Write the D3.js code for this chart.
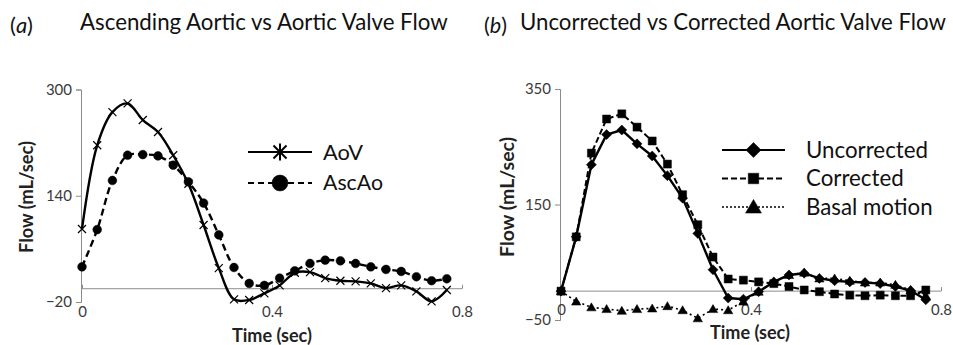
<!DOCTYPE html>
<html><head><meta charset="utf-8">
<script src="https://cdn.jsdelivr.net/npm/d3@7"></script>
<style>html,body{margin:0;padding:0;background:#fff;}svg{display:block;}</style>
</head><body>
<script>
// ---- data ----
const time = [0, 0.032, 0.064, 0.096, 0.128, 0.160, 0.192, 0.224, 0.256, 0.288, 0.320, 0.352, 0.384, 0.416, 0.448, 0.480, 0.512, 0.544, 0.576, 0.608, 0.640, 0.672, 0.704, 0.736, 0.768];
const aov = [90, 216, 266, 279, 254, 236, 201, 158, 96, 31, -16, -17, -7, 5, 24, 25, 16, 12, 11, 8, 1, 5, -4, -19, -2];
const ascAo = [33, 89, 163, 201, 202, 200, 186, 161, 129, 81, 32, 8, 5, 16, 27, 38, 43, 42, 38, 33, 29, 26, 18, 12, 15];
const uncorrected = [0, 94, 219, 271, 279, 255, 234, 200, 161, 100, 37, -12, -14, -1, 16, 28, 31, 22, 18, 16, 15, 13, 8, 1, -15];
const corrected = [0, 94, 239, 298, 307, 284, 260, 220, 167, 115, 59, 21, 19, 16, 13, 8, 2, -1, -5, -7, -8, -7, -8, -8, 2];
const basal = [0, -18, -28, -31, -34, -31, -30, -26, -33, -47, -31, -33, -18, -1, 16, 28, 32, 22, 22, 18, 15, 15, 11, 2, -8];
const yTicksA = [-20, 140, 300];
const yTicksB = [-50, 150, 350];
const xTicks = [0, 0.4, 0.8];
const titleA = "Ascending Aortic vs Aortic Valve Flow";
const titleB = "Uncorrected vs Corrected Aortic Valve Flow";
const yLabel = "Flow (mL/sec)";
const xLabel = "Time (sec)";
const legendA = ["AoV", "AscAo"];
const legendB = ["Uncorrected", "Corrected", "Basal motion"];

const W = 953, H = 345;
const FONT = "Lato, 'Open Sans', sans-serif";
const svg = d3.select("body").append("svg").attr("width", W).attr("height", H);
svg.append("rect").attr("width", W).attr("height", H).attr("fill", "#fff");

function fit(sel, target) {
  const n = sel.node();
  const len = n.getComputedTextLength();
  const fs = parseFloat(sel.attr("font-size"));
  if (len > 0) sel.attr("font-size", (fs * target / len).toFixed(2));
  return sel;
}

// ---- titles ----
function panelLabel(x, y, letter) {
  const t = svg.append("text").attr("x", x).attr("y", y).attr("font-family", FONT).attr("font-size", 20).attr("fill", "#111");
  t.append("tspan").text("(");
  t.append("tspan").attr("font-style", "italic").text(letter);
  t.append("tspan").text(")");
  fit(t, 23);
}
panelLabel(10, 33, "a");
panelLabel(484, 33, "b");
fit(svg.append("text").attr("x", 80).attr("y", 30).attr("font-family", FONT).attr("font-size", 20).attr("fill", "#111").text(titleA), 368);
fit(svg.append("text").attr("x", 520).attr("y", 30).attr("font-family", FONT).attr("font-size", 20).attr("fill", "#111").text(titleB), 426);

const AXIS = "#8c8c8c";
const TICKC = "#3a3a3a";

function panel(cfg) {
  const x = d3.scaleLinear().domain([0, 0.8]).range(cfg.xr);
  const y = d3.scaleLinear().domain(cfg.yd).range(cfg.yr);
  const g = svg.append("g");
  // y axis
  const ya = d3.axisLeft(y).tickValues(cfg.yTicks).tickSize(5).tickFormat(d3.format("d"));
  const yg = g.append("g").attr("transform", `translate(${cfg.xr[0] - 1},0)`).call(ya);
  yg.select(".domain").attr("stroke", AXIS);
  yg.selectAll(".tick line").attr("stroke", AXIS);
  yg.selectAll(".tick text").attr("font-family", FONT).attr("font-size", 15).attr("fill", TICKC).attr("x", -9);
  // x axis at zero line
  const xa = d3.axisBottom(x).tickValues(xTicks).tickSize(4).tickFormat(d => d === 0 ? "0" : d3.format(".1f")(d));
  const xg = g.append("g").attr("transform", `translate(0,${y(0)})`).call(xa);
  xg.select(".domain").attr("stroke", AXIS).attr("d", `M${cfg.xr[0] - 1},0H${cfg.xr[1]}`);
  xg.selectAll(".tick line").attr("stroke", AXIS).attr("y1", -4).attr("y2", 0);
  xg.selectAll(".tick text").attr("font-family", FONT).attr("font-size", 15).attr("fill", TICKC).attr("dy", 0).attr("y", cfg.xLabelY);
  // axis titles
  fit(g.append("text").attr("transform", `translate(${cfg.yTitleX},${cfg.yTitleY}) rotate(-90)`).attr("text-anchor", "middle")
    .attr("dy", "0.35em").attr("font-family", FONT).attr("font-weight", "bold").attr("font-size", 16).attr("fill", "#222").text(yLabel), cfg.yTitleW);
  fit(g.append("text").attr("x", cfg.xTitleX).attr("y", cfg.xTitleY).attr("text-anchor", "middle")
    .attr("font-family", FONT).attr("font-weight", "bold").attr("font-size", 16).attr("fill", "#222").text(xLabel), cfg.xTitleW);
  return {x, y, g};
}

const symAst = {draw(ctx, size) { const r = Math.sqrt(size) / 2; ctx.moveTo(-r, -r); ctx.lineTo(r, r); ctx.moveTo(-r, r); ctx.lineTo(r, -r); ctx.moveTo(0, -r * 1.3); ctx.lineTo(0, r * 1.3); }};
const symX = {draw(ctx, size) { const r = Math.sqrt(size) / 2; ctx.moveTo(-r, -r); ctx.lineTo(r, r); ctx.moveTo(-r, r); ctx.lineTo(r, -r); }};
const symDiamond = {draw(ctx, size) { const r = Math.sqrt(size) / 2; ctx.moveTo(0, -r); ctx.lineTo(r, 0); ctx.lineTo(0, r); ctx.lineTo(-r, 0); ctx.closePath(); }};
const symSquare = {draw(ctx, size) { const r = Math.sqrt(size) / 2; ctx.rect(-r, -r, 2 * r, 2 * r); }};
const symTri = {draw(ctx, size) { const r = Math.sqrt(size) / 2; ctx.moveTo(0, -r); ctx.lineTo(r * 1.05, r * 0.8); ctx.lineTo(-r * 1.05, r * 0.8); ctx.closePath(); }};

function series(p, vals, opts) {
  const data = time.map((t, i) => [t, vals[i]]);
  const line = d3.line().x(d => p.x(d[0])).y(d => p.y(d[1])).curve(opts.curve || d3.curveLinear);
  p.g.append("path").attr("d", line(data)).attr("fill", "none").attr("stroke", "#000")
    .attr("stroke-width", opts.sw).attr("stroke-dasharray", opts.dash || null).attr("stroke-linejoin", "round");
  p.g.selectAll(null).data(data).join("path")
    .attr("transform", d => `translate(${p.x(d[0])},${p.y(d[1])})`)
    .attr("d", d3.symbol(opts.sym, opts.size))
    .attr("fill", opts.fill ? "#000" : "none").attr("stroke", "#000").attr("stroke-width", opts.fill ? 0.5 : 1.2);
}

function legendRow(x1, x2, y, opts, label, tx, fs) {
  svg.append("line").attr("x1", x1).attr("x2", x2).attr("y1", y).attr("y2", y).attr("stroke", "#000")
    .attr("stroke-width", opts.lsw).attr("stroke-dasharray", opts.dash || null);
  svg.append("path").attr("transform", `translate(${(x1 + x2) / 2},${y})`).attr("d", d3.symbol(opts.sym, opts.lsize))
    .attr("fill", opts.fill ? "#000" : "none").attr("stroke", "#000").attr("stroke-width", opts.fill ? 0.5 : 2);
  return svg.append("text").attr("x", tx).attr("y", y).attr("dy", "0.35em").attr("font-family", FONT).attr("font-size", fs).attr("fill", "#111").text(label);
}

// ---- panel A ----
const pA = panel({xr: [82, 462], yd: [-20, 300], yr: [302, 89.5], yTicks: yTicksA, xLabelY: 28,
  yTitleX: 27, yTitleY: 197, yTitleW: 112, xTitleX: 272, xTitleY: 342, xTitleW: 80});
const smooth = d3.curveCatmullRom.alpha(0.5);
series(pA, aov, {sym: symX, size: 64, sw: 2.4, curve: smooth});
series(pA, ascAo, {sym: d3.symbolCircle, size: 60, sw: 2.4, dash: "7,4", fill: true, curve: smooth});
fit(legendRow(248, 312, 152, {sym: symAst, lsize: 170, lsw: 2.2}, legendA[0], 323, 20), 40);
fit(legendRow(248, 312, 183, {sym: d3.symbolCircle, lsize: 200, lsw: 2.2, dash: "6,4", fill: true}, legendA[1], 323, 20), 60);

// ---- panel B ----
const pB = panel({xr: [561, 941], yd: [-50, 350], yr: [320, 89], yTicks: yTicksB, xLabelY: 24,
  yTitleX: 507, yTitleY: 197, yTitleW: 120, xTitleX: 750, xTitleY: 339, xTitleW: 80});
series(pB, basal, {sym: symTri, size: 80, sw: 1.6, dash: "2,3", fill: true});
series(pB, corrected, {sym: symSquare, size: 64, sw: 2, dash: "6,3", fill: true});
series(pB, uncorrected, {sym: symDiamond, size: 100, sw: 2.4, fill: true});
const f1 = legendRow(722, 785, 150, {sym: symDiamond, lsize: 230, lsw: 2, fill: true}, legendB[0], 806, 20);
fit(f1, 122);
const fsB = f1.attr("font-size");
legendRow(722, 785, 178.5, {sym: symSquare, lsize: 110, lsw: 2, dash: "6,3", fill: true}, legendB[1], 806, fsB);
legendRow(722, 785, 207, {sym: symTri, lsize: 230, lsw: 1.6, dash: "2,2", fill: true}, legendB[2], 806, fsB);
</script>
</body></html>
